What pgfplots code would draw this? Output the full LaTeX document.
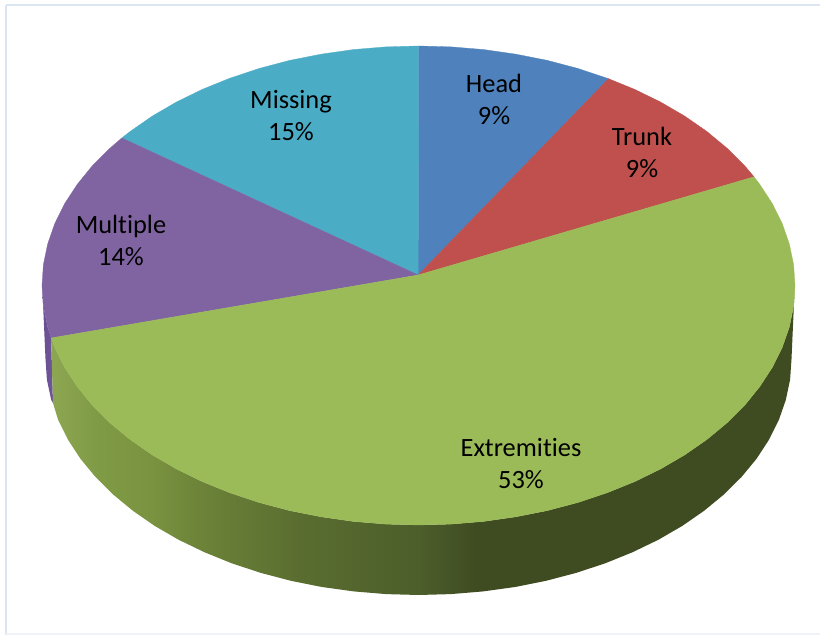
\documentclass[border=0pt]{standalone}
\usepackage{pgfplots}
\pgfplotsset{compat=1.18}
\usepackage{fontspec}
\setmainfont{Carlito}[Ligatures=NoCommon]

\definecolor{headblue}{HTML}{4F81BD}
\definecolor{trunkred}{HTML}{C0504D}
\definecolor{extgreen}{HTML}{9BBB59}
\definecolor{multipurple}{HTML}{8064A2}
\definecolor{missingcyan}{HTML}{4BACC6}
\definecolor{framecol}{HTML}{DCE6F2}
\definecolor{gwA}{HTML}{8CA651}
\definecolor{gwB}{HTML}{7F9A45}
\definecolor{gwC}{HTML}{7A9340}
\definecolor{gwD}{HTML}{6C8338}
\definecolor{gwE}{HTML}{5A6D30}
\definecolor{gwF}{HTML}{4C5E2A}
\definecolor{gwG}{HTML}{3F4C22}
\definecolor{pwA}{HTML}{675090}
\definecolor{pwB}{HTML}{70569A}

% Side wall of the large green slice, light on the left, dark past the front
\pgfdeclarehorizontalshading{greenwall}{100bp}{
  color(0bp)=(gwA);
  color(25bp)=(gwA);
  color(28.3bp)=(gwB);
  color(31.7bp)=(gwC);
  color(35bp)=(gwD);
  color(41.7bp)=(gwE);
  color(49.8bp)=(gwF);
  color(53.5bp)=(gwG);
  color(75bp)=(gwG);
  color(100bp)=(gwG)}
\pgfdeclarehorizontalshading{purplewall}{100bp}{
  color(0bp)=(pwA);
  color(25bp)=(pwA);
  color(75bp)=(pwB);
  color(100bp)=(pwB)}

\tikzset{lab/.style={font=\fontsize{26.4}{26.4}\selectfont, anchor=base, text=black, inner sep=0pt}}

\begin{document}
\begin{tikzpicture}
\begin{axis}[
  scale only axis,
  width=820pt, height=635pt,
  xmin=-418.5, xmax=401.5,
  ymin=-349.5, ymax=285.5,
  hide axis,
  clip=true,
  no markers,
  every axis plot/.append style={forget plot, line join=round},
]
% page background
\addplot[fill=white, draw=none] coordinates {(-418.5,-349.5) (401.5,-349.5) (401.5,285.5) (-418.5,285.5)} --cycle;

% side wall, purple part
\addplot[shading=purplewall, draw=none] coordinates {
  (-376.5,0) (-375.1,-20.9) (-370.8,-41.6) (-367.4,-52.5) (-365.5,-117.5)
  (-367.3,-114.5) (-371.6,-94.1) (-373,-73.5) (-375.5,-17.5)} --cycle;

% side wall, green part: outer edge right to left, then top rim left to right
\addplot[shading=greenwall, draw=none] coordinates {
  (376.5,0) (375.5,-17.5) (373,-73.5) (371.6,-94.1) (367.3,-114.5) (360.3,-134.6)
  (350.5,-154.2) (338.1,-173.2) (323,-191.5) (305.5,-208.9) (285.7,-225.2)
  (263.8,-240.4) (239.8,-254.3) (213.9,-266.8) (186.5,-277.9) (157.6,-287.4)
  (127.6,-295.3) (96.5,-301.5) (64.8,-305.9) (32.5,-308.6) (0,-309.5)
  (-32.5,-308.6) (-64.8,-305.9) (-96.5,-301.5) (-127.6,-295.3) (-157.6,-287.4)
  (-186.5,-277.9) (-213.9,-266.8) (-239.8,-254.3) (-263.8,-240.4) (-285.7,-225.2)
  (-305.5,-208.9) (-323,-191.5) (-338.1,-173.2) (-350.5,-154.2) (-360.3,-134.6)
  (-365.5,-117.5)
  (-367.4,-52.5) (-363.7,-62) (-353.8,-81.9) (-341.2,-101.2) (-326.1,-119.8)
  (-308.4,-137.4) (-288.4,-154) (-266.2,-169.4) (-242,-183.5) (-216,-196.2)
  (-188.3,-207.4) (-159.1,-217.1) (-128.8,-225.1) (-97.4,-231.3) (-65.4,-235.9)
  (-32.8,-238.6) (0,-239.5) (32.8,-238.6) (65.4,-235.9) (97.4,-231.3)
  (128.8,-225.1) (159.1,-217.1) (188.3,-207.4) (216,-196.2) (242,-183.5)
  (266.2,-169.4) (288.4,-154) (308.4,-137.4) (326.1,-119.8) (341.2,-101.2)
  (353.8,-81.9) (363.7,-62) (370.8,-41.6) (375.1,-20.9)} --cycle;

% top face: Head
\addplot[fill=headblue, draw=headblue, line width=0.3pt] coordinates {
  (-0.3,10.5) (0,239.5) (32.8,238.6) (65.4,235.9) (97.4,231.3) (128.8,225.1)
  (159.1,217.1) (190,206.8)} --cycle;
% top face: Trunk
\addplot[fill=trunkred, draw=trunkred, line width=0.3pt] coordinates {
  (-0.3,10.5) (190,206.8) (216,196.2) (242,183.5) (266.2,169.4) (288.4,154)
  (308.4,137.4) (326.1,119.8) (335.5,108.7)} --cycle;
% top face: Missing
\addplot[fill=missingcyan, draw=missingcyan, line width=0.3pt] coordinates {
  (-0.3,10.5) (-296.7,147.5) (-288.4,154) (-266.2,169.4) (-242,183.5) (-216,196.2)
  (-188.3,207.4) (-159.1,217.1) (-128.8,225.1) (-97.4,231.3) (-65.4,235.9)
  (-32.8,238.6) (0,239.5)} --cycle;
% top face: Multiple
\addplot[fill=multipurple, draw=multipurple, line width=0.3pt] coordinates {
  (-0.3,10.5) (-367.4,-52.5) (-370.8,-41.6) (-375.1,-20.9) (-376.5,0) (-375.1,20.9)
  (-370.8,41.6) (-363.7,62) (-353.8,81.9) (-341.2,101.2) (-326.1,119.8)
  (-308.4,137.4) (-296.7,147.5)} --cycle;
% top face: Extremities
\addplot[fill=extgreen, draw=extgreen, line width=0.3pt] coordinates {
  (-0.3,10.5) (335.5,108.7) (341.2,101.2) (353.8,81.9) (363.7,62) (370.8,41.6)
  (375.1,20.9) (376.5,0) (375.1,-20.9) (370.8,-41.6) (363.7,-62) (353.8,-81.9)
  (341.2,-101.2) (326.1,-119.8) (308.4,-137.4) (288.4,-154) (266.2,-169.4)
  (242,-183.5) (216,-196.2) (188.3,-207.4) (159.1,-217.1) (128.8,-225.1)
  (97.4,-231.3) (65.4,-235.9) (32.8,-238.6) (0,-239.5) (-32.8,-238.6) (-65.4,-235.9)
  (-97.4,-231.3) (-128.8,-225.1) (-159.1,-217.1) (-188.3,-207.4) (-216,-196.2)
  (-242,-183.5) (-266.2,-169.4) (-288.4,-154) (-308.4,-137.4) (-326.1,-119.8)
  (-341.2,-101.2) (-353.8,-81.9) (-363.7,-62) (-367.4,-52.5)} --cycle;

% slice labels
\node[lab] at (axis cs:75.5,192.5) {Head};
\node[lab] at (axis cs:75.5,160.5) {9\%};
\node[lab] at (axis cs:223.5,139.5) {Trunk};
\node[lab] at (axis cs:223.5,107.5) {9\%};
\node[lab] at (axis cs:-297.5,51.5) {Multiple};
\node[lab] at (axis cs:-297.5,19.5) {14\%};
\node[lab] at (axis cs:-127.5,176.5) {Missing};
\node[lab] at (axis cs:-127.5,144.5) {15\%};
\node[lab] at (axis cs:102.5,-171.5) {Extremities};
\node[lab] at (axis cs:102.5,-203.5) {53\%};

% chart frame
\draw[framecol, line width=2pt] (axis cs:-412.5,280) -- (axis cs:401.5,280);
\draw[framecol, line width=2pt] (axis cs:-412.5,280) -- (axis cs:-412.5,-349.5);
\draw[framecol!50, line width=1.5pt] (axis cs:-412.5,-348.5) -- (axis cs:401.5,-348.5);
\end{axis}
\end{tikzpicture}
\end{document}
